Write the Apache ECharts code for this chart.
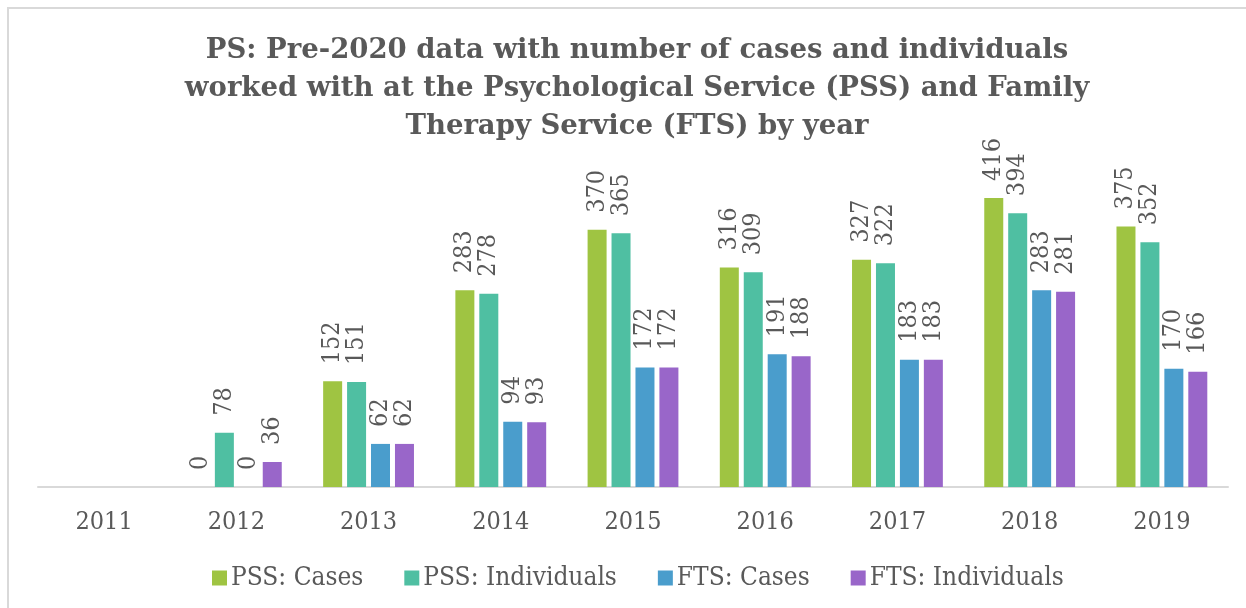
<!DOCTYPE html>
<html>
<head>
<meta charset="utf-8">
<script src="https://cdn.jsdelivr.net/npm/echarts@6/dist/echarts.min.js"></script>
<style>
  html, body { margin: 0; padding: 0; background: #fff; }
  #chart { width: 1246px; height: 608px; }
</style>
</head>
<body>
<div id="chart"></div>
<script>
const years = ['2011', '2012', '2013', '2014', '2015', '2016', '2017', '2018', '2019'];
const pssCases = [null, 0, 152, 283, 370, 316, 327, 416, 375];
const pssIndividuals = [null, 78, 151, 278, 365, 309, 322, 394, 352];
const ftsCases = [null, 0, 62, 94, 172, 191, 183, 283, 170];
const ftsIndividuals = [null, 36, 62, 93, 172, 188, 183, 281, 166];

const seriesNames = ['PSS: Cases', 'PSS: Individuals', 'FTS: Cases', 'FTS: Individuals'];
const colors = ['#9fc442', '#4fbfa2', '#4a9dcc', '#9966c9'];

const textColor = '#595959';
const serif = '"DejaVu Serif Condensed", "DejaVu Serif", serif';

const chart = echarts.init(document.getElementById('chart'));

const makeSeries = (name, data, color) => ({
  name: name,
  type: 'bar',
  data: data,
  barWidth: 19,
  barGap: '26%',
  itemStyle: { color: color },
  label: {
    show: true,
    position: 'top',
    rotate: 90,
    align: 'left',
    verticalAlign: 'middle',
    distance: 17,
    color: textColor,
    fontFamily: serif,
    fontSize: 25
  }
});

chart.setOption({
  animation: false,
  color: colors,
  title: {
    text: 'PS: Pre-2020 data with number of cases and individuals\nworked with at the Psychological Service (PSS) and Family\nTherapy Service (FTS) by year',
    left: 632,
    top: 27,
    textAlign: 'center',
    textStyle: {
      fontFamily: '"DejaVu Serif", serif',
      fontWeight: 'bold',
      fontSize: 27.5,
      lineHeight: 38,
      color: textColor
    }
  },
  legend: {
    bottom: 12,
    left: 207,
    itemWidth: 15,
    itemHeight: 15,
    itemGap: 41,
    icon: 'rect',
    textStyle: { fontFamily: serif, fontSize: 26, color: textColor, padding: [0, 0, 0, -1] },
    data: seriesNames
  },
  grid: { left: 38, right: 18, top: 139.5, bottom: 121 },
  xAxis: {
    type: 'category',
    data: years,
    axisLine: { lineStyle: { color: '#d9d9d9', width: 2 } },
    axisTick: { show: false },
    axisLabel: { color: textColor, fontFamily: serif, fontSize: 25, margin: 23 }
  },
  yAxis: {
    type: 'value',
    min: 0,
    max: 500,
    show: false,
    splitLine: { show: false }
  },
  graphic: [{
    type: 'rect',
    shape: { x: 8, y: 8, width: 1260, height: 640 },
    style: { fill: null, stroke: '#d9d9d9', lineWidth: 2 },
    silent: true
  }],
  series: [
    makeSeries(seriesNames[0], pssCases, colors[0]),
    makeSeries(seriesNames[1], pssIndividuals, colors[1]),
    makeSeries(seriesNames[2], ftsCases, colors[2]),
    makeSeries(seriesNames[3], ftsIndividuals, colors[3])
  ]
});
</script>
</body>
</html>
